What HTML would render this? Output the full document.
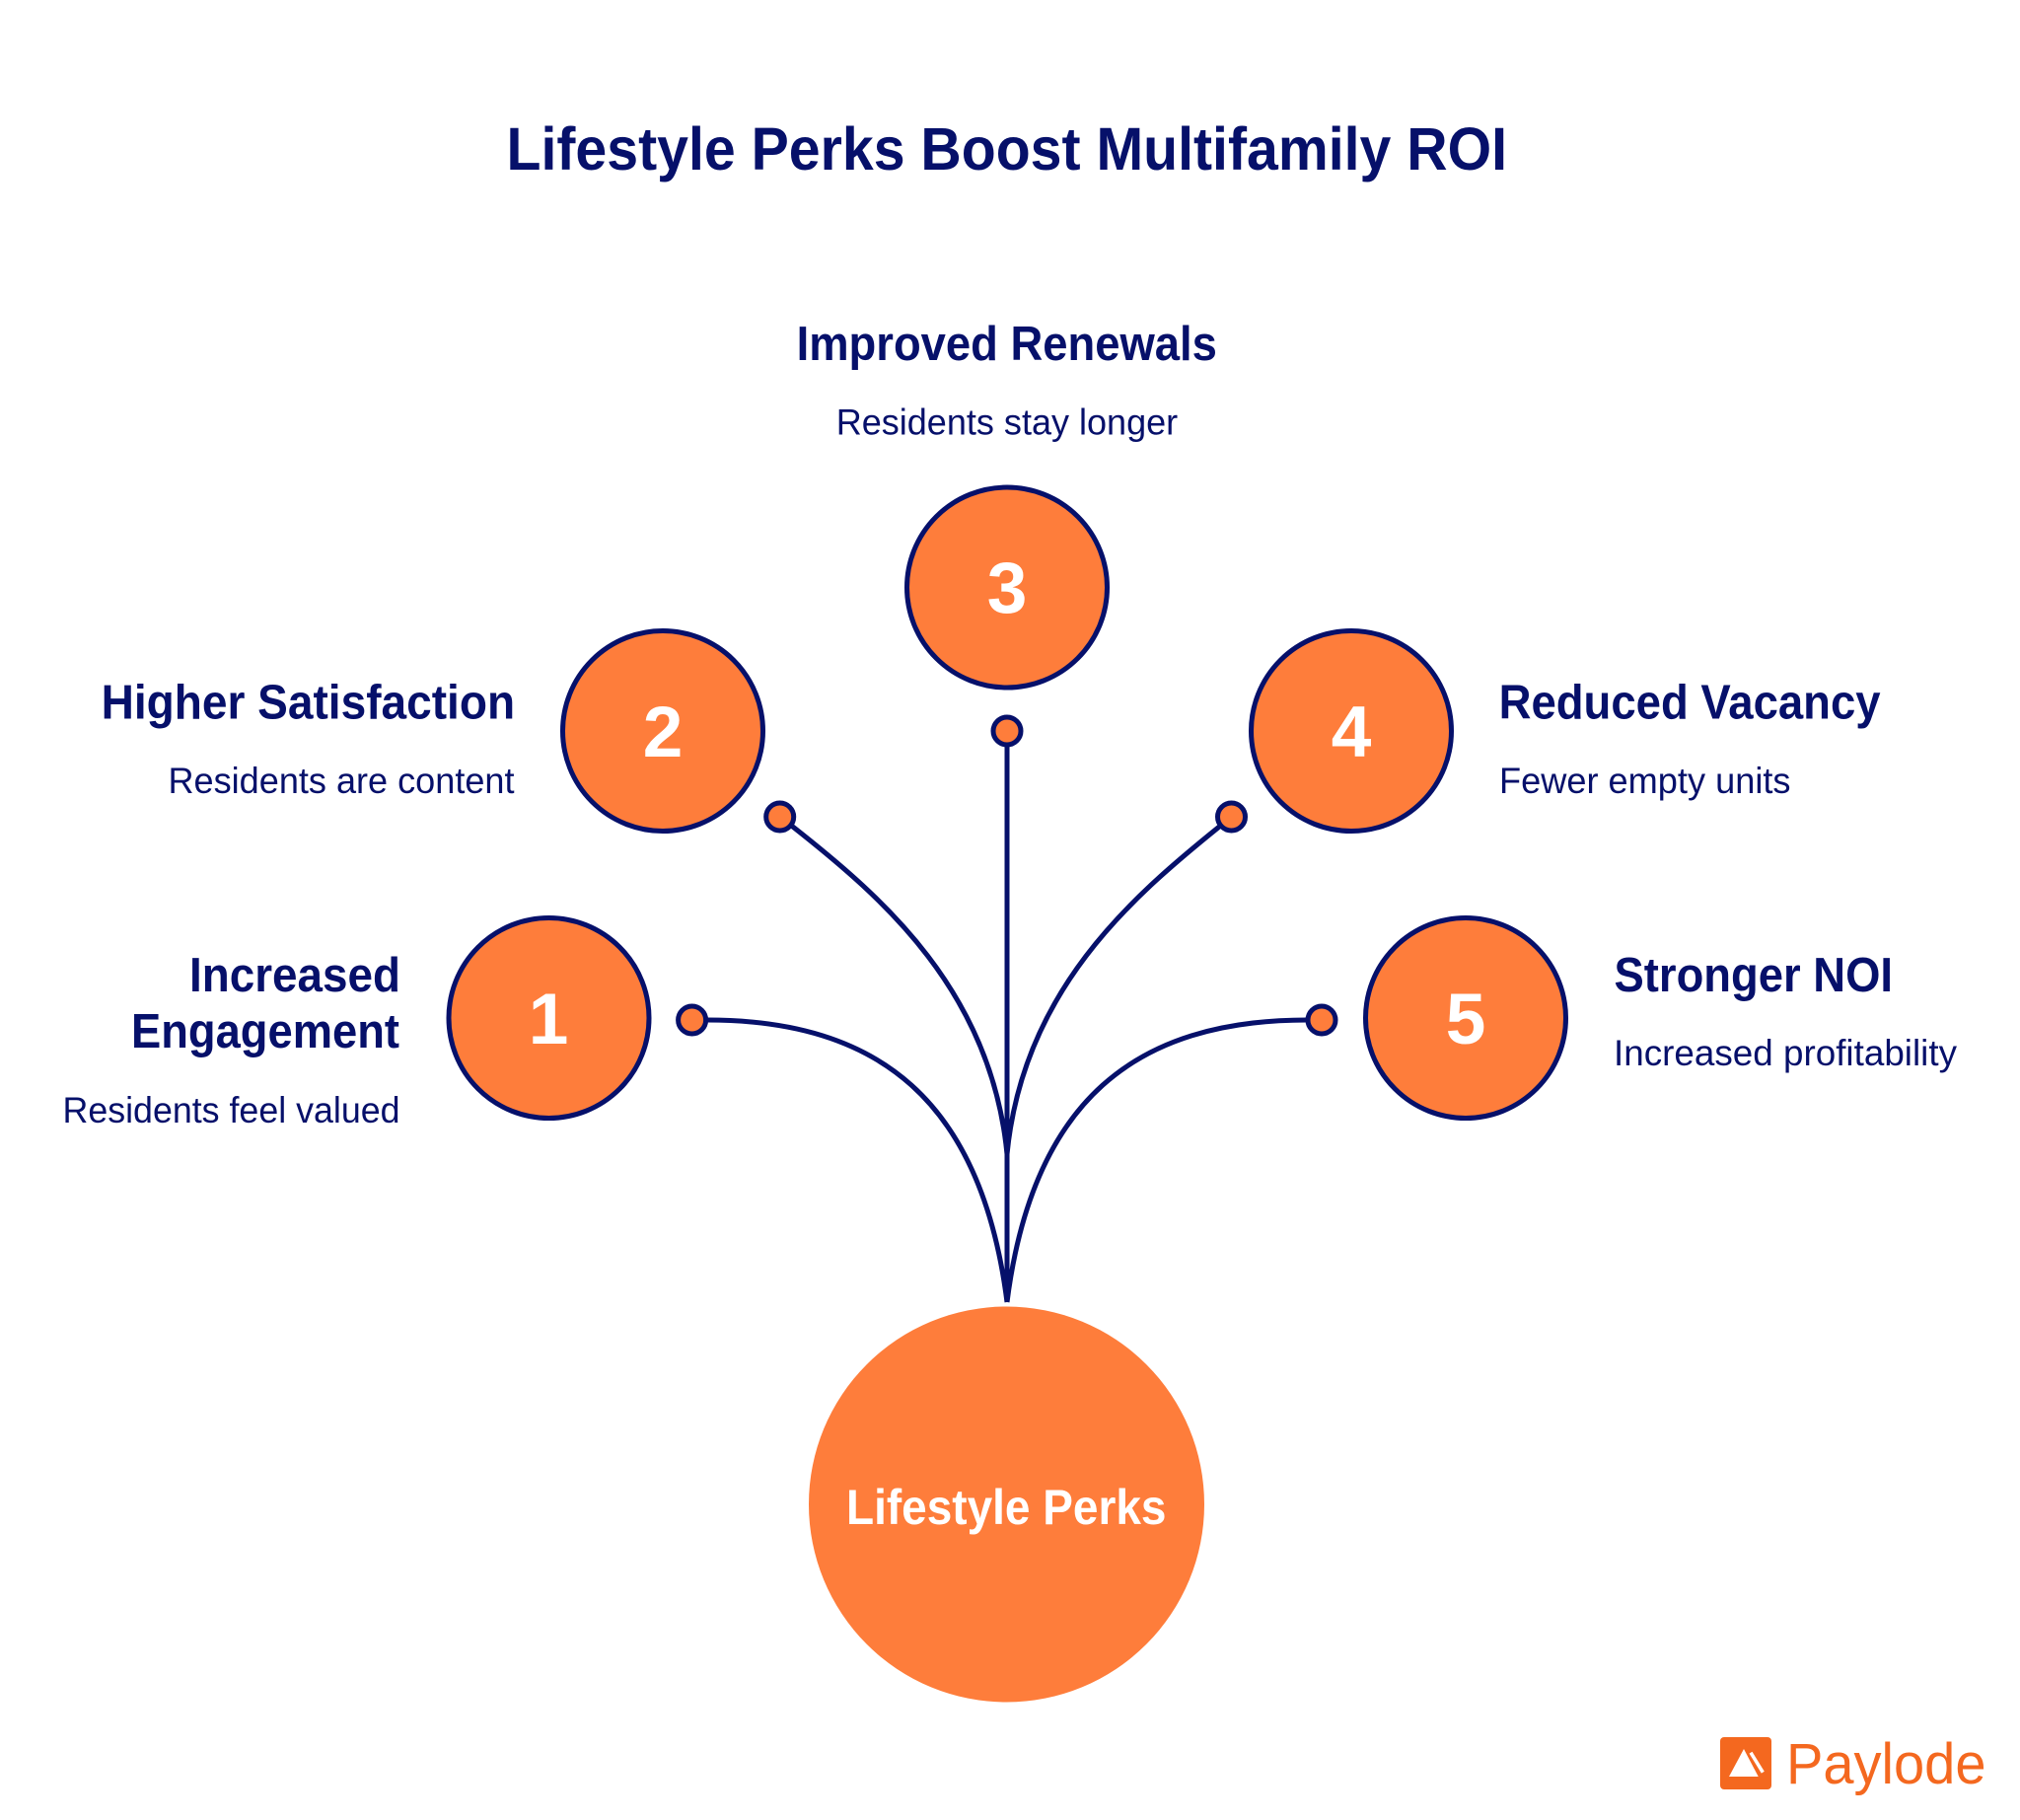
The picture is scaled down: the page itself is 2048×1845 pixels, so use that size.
<!DOCTYPE html>
<html><head><meta charset="utf-8"><style>html,body{margin:0;padding:0;background:#fff}svg{display:block}text{font-family:"Liberation Sans",sans-serif}</style></head><body>
<svg width="2048" height="1845" viewBox="0 0 2048 1845" xmlns="http://www.w3.org/2000/svg">
<rect width="2048" height="1845" fill="#fff"/>
<g fill="none" stroke="#06106a" stroke-width="5">
<path d="M1021 1320 L1021 741"/>
<path d="M705 1034 L717 1034 C890 1034 995 1115 1021 1320"/>
<path d="M1337 1034 L1325 1034 C1152 1034 1047 1115 1021 1320"/>
<path d="M796 832 L805 839 C895 910 1005 1005 1021 1170"/>
<path d="M1243 832 L1235 839 C1147 910 1037 1005 1021 1170"/>
</g>
<g fill="#fe7d3b" stroke="#06106a" stroke-width="5">
<circle cx="556.5" cy="1032" r="101.5"/>
<circle cx="672" cy="741" r="101.5"/>
<circle cx="1021" cy="595.5" r="101.5"/>
<circle cx="1370" cy="741" r="101.5"/>
<circle cx="1486" cy="1032" r="101.5"/>
<circle cx="701.6" cy="1034" r="14"/>
<circle cx="790.7" cy="828" r="14"/>
<circle cx="1021" cy="741" r="14"/>
<circle cx="1248.5" cy="828" r="14"/>
<circle cx="1340" cy="1034" r="14"/>
</g>
<circle cx="1020.5" cy="1525" r="200.5" fill="#fe7d3b"/>
<g fill="#06106a">
<text x="513.5" y="172" font-size="61" font-weight="700" textLength="1014.5" lengthAdjust="spacingAndGlyphs">Lifestyle Perks Boost Multifamily ROI</text>
<g font-size="49" font-weight="700">
<text x="807.6" y="365" textLength="426.3" lengthAdjust="spacingAndGlyphs">Improved Renewals</text>
<text x="102.6" y="728.5" textLength="419.5" lengthAdjust="spacingAndGlyphs">Higher Satisfaction</text>
<text x="192" y="1005" textLength="214" lengthAdjust="spacingAndGlyphs">Increased</text>
<text x="133" y="1062" textLength="272" lengthAdjust="spacingAndGlyphs">Engagement</text>
<text x="1519.6" y="728.5" textLength="387" lengthAdjust="spacingAndGlyphs">Reduced Vacancy</text>
<text x="1636.5" y="1005" textLength="282.5" lengthAdjust="spacingAndGlyphs">Stronger NOI</text>
</g>
<g font-size="37">
<text x="847.7" y="440.5" textLength="346.5" lengthAdjust="spacingAndGlyphs">Residents stay longer</text>
<text x="170.5" y="804" textLength="351" lengthAdjust="spacingAndGlyphs">Residents are content</text>
<text x="63.5" y="1138" textLength="342" lengthAdjust="spacingAndGlyphs">Residents feel valued</text>
<text x="1520" y="804" textLength="295.5" lengthAdjust="spacingAndGlyphs">Fewer empty units</text>
<text x="1636" y="1080" textLength="348" lengthAdjust="spacingAndGlyphs">Increased profitability</text>
</g>
</g>
<g fill="#fff" font-weight="700" text-anchor="middle" font-size="73">
<text x="556" y="1058">1</text>
<text x="672" y="767">2</text>
<text x="1021" y="621">3</text>
<text x="1370" y="767">4</text>
<text x="1486" y="1058">5</text>
</g>
<text x="858" y="1545" fill="#fff" font-size="50" font-weight="700" textLength="324.5" lengthAdjust="spacingAndGlyphs">Lifestyle Perks</text>
<rect x="1744" y="1761" width="52" height="53" rx="4" fill="#f4681f"/>
<path d="M1768 1773 L1782.7 1801 L1753 1801 Z" fill="#fff"/>
<path d="M1775 1776.7 L1787.3 1796.7" stroke="#fff" stroke-width="3.5" fill="none"/>
<text x="1811" y="1808" fill="#f4681f" font-size="58" textLength="202.5" lengthAdjust="spacingAndGlyphs">Paylode</text>
</svg>
</body></html>
